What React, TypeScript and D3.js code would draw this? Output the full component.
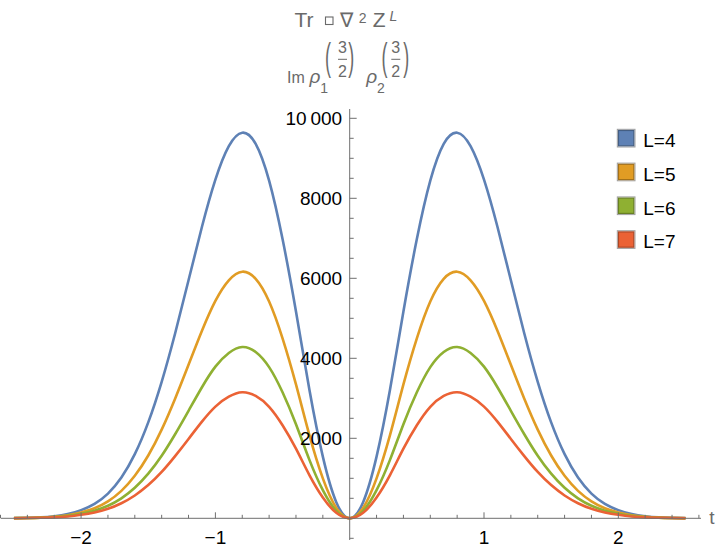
import React from 'react';
import * as d3 from 'd3';

// sample points along t
const tValues = [
  -2.5, -2.4, -2.3, -2.2, -2.1, -2.0, -1.9, -1.8, -1.7, -1.6, -1.5, -1.4, -1.3, -1.2, -1.1, -1.0, -0.9,
  -0.8, -0.7, -0.6, -0.5, -0.4, -0.3, -0.2, -0.1, 0, 0.1, 0.2, 0.3, 0.4, 0.5, 0.6, 0.7, 0.8, 0.9, 1.0,
  1.1, 1.2, 1.3, 1.4, 1.5, 1.6, 1.7, 1.8, 1.9, 2.0, 2.1, 2.2, 2.3, 2.4, 2.5,
];

const valuesL4 = [
  5, 11, 24, 52, 105, 205, 360, 618, 1020, 1603, 2397, 3412, 4620, 5952, 7288, 8465, 9303, 9640, 9360,
  8440, 6980, 5170, 3212, 1542, 404, 0, 404, 1542, 3212, 5170, 6980, 8440, 9360, 9640, 9303, 8465, 7288,
  5952, 4620, 3412, 2397, 1603, 1020, 618, 360, 205, 105, 52, 24, 11, 5,
];
const valuesL5 = [
  4, 8, 18, 39, 77, 147, 252, 424, 686, 1062, 1570, 2217, 2990, 3837, 4689, 5435, 5950, 6165, 5986,
  5419, 4499, 3346, 2078, 998, 261, 0, 261, 998, 2078, 3346, 4499, 5419, 5986, 6165, 5950, 5435, 4689,
  3837, 2990, 2217, 1570, 1062, 686, 424, 252, 147, 77, 39, 18, 8, 4,
];
const valuesL6 = [
  3, 7, 15, 31, 60, 113, 191, 314, 500, 764, 1116, 1564, 2102, 2687, 3277, 3791, 4134, 4283, 4159,
  3780, 3151, 2352, 1460, 702, 184, 0, 184, 702, 1460, 2352, 3151, 3780, 4159, 4283, 4134, 3791, 3277,
  2687, 2102, 1564, 1116, 764, 500, 314, 191, 113, 60, 31, 15, 7, 3,
];
const valuesL7 = [
  3, 6, 12, 24, 47, 87, 146, 238, 377, 571, 830, 1159, 1555, 1984, 2417, 2793, 3040, 3150, 3058,
  2786, 2326, 1740, 1080, 519, 136, 0, 136, 519, 1080, 1740, 2326, 2786, 3058, 3150, 3040, 2793, 2417,
  1984, 1555, 1159, 830, 571, 377, 238, 146, 87, 47, 24, 12, 6, 3,
];

const seriesNames = ['L=4', 'L=5', 'L=6', 'L=7'];
const seriesColors = ['#5e81b5', '#e19c24', '#8fb032', '#eb6235'];

const xTickValues = [-2, -1, 1, 2];
const xTickLabels = ['\u22122', '\u22121', '1', '2'];
const yTickValues = [2000, 4000, 6000, 8000, 10000];
const yTickLabels = ['2000', '4000', '6000', '8000', '10\u2009000'];

const W = 720;
const H = 552;
const font = '"Liberation Sans", Arial, sans-serif';
const axisColor = '#6f6f6f';
const labelGray = '#6a6a6a';

export default function App() {
  const x = d3.scaleLinear().domain([-2.6, 2.6]).range([0.5, 698.9]);
  const y = d3.scaleLinear().domain([0, 10000]).range([518.3, 118.3]);
  const x0 = x(0);
  const y0 = y(0);

  const line = d3
    .line<number>()
    .x((_, i) => x(tValues[i]))
    .y((d) => y(d))
    .curve(d3.curveNatural);

  const series = [valuesL4, valuesL5, valuesL6, valuesL7];

  const xMinor = d3
    .range(-26, 27, 2)
    .map((k) => k / 10)
    .filter((t) => Math.abs(t) > 1e-9 && !xTickValues.includes(t));
  const yMinor = d3.range(-500, 10001, 500).filter((v) => v !== 0 && !yTickValues.includes(v));

  return (
    <div style={{ position: 'absolute', left: 0, top: 0 }}>
      <svg width={W} height={H} style={{ display: 'block', background: '#fff' }}>
        {/* curves */}
        <g fill="none" strokeWidth={2.6} strokeLinejoin="round">
          {series.map((s, i) => (
            <path key={i} d={line(s) || ''} stroke={seriesColors[i]} />
          ))}
        </g>

        {/* x axis */}
        <g stroke={axisColor} strokeWidth={1}>
          <line x1={1} x2={701} y1={y0} y2={y0} />
          {xTickValues.map((t) => (
            <line key={'xt' + t} x1={x(t)} x2={x(t)} y1={y0} y2={y0 - 6} />
          ))}
          {xMinor.map((t) => (
            <line key={'xm' + t} x1={x(t)} x2={x(t)} y1={y0} y2={y0 - 3.5} />
          ))}
        </g>
        <g fontFamily={font} fontSize={19} fill="#000" textAnchor="middle">
          {xTickValues.map((t, i) => (
            <text key={'xl' + t} x={x(t)} y={y0 + 26}>
              {xTickLabels[i]}
            </text>
          ))}
        </g>
        <text x={712} y={y0 + 6} fontFamily={font} fontSize={19} fill={labelGray} textAnchor="middle">
          t
        </text>

        {/* y axis */}
        <g stroke={axisColor} strokeWidth={1}>
          <line x1={x0} x2={x0} y1={109} y2={540} />
          {yTickValues.map((v) => (
            <line key={'yt' + v} x1={x0} x2={x0 + 7} y1={y(v)} y2={y(v)} />
          ))}
          {yMinor.map((v) => (
            <line key={'ym' + v} x1={x0} x2={x0 + 4} y1={y(v)} y2={y(v)} />
          ))}
        </g>
        <g fontFamily={font} fontSize={19} fill="#000" textAnchor="end">
          {yTickValues.map((v, i) => (
            <text key={'yl' + v} x={x0 - 7.5} y={y(v) + 7}>
              {yTickLabels[i]}
            </text>
          ))}
        </g>

        {/* legend */}
        <g fontFamily={font} fontSize={19} fill="#000">
          {seriesNames.map((name, i) => {
            const ry = 138 + i * 33.8;
            const c = seriesColors[i];
            const dark = d3.color(c)!.darker(0.9).formatHex();
            return (
              <g key={name}>
                <rect x={617.3} y={ry - 8.7} width={17.7} height={17.7} fill="none" stroke="#a0a0a0" strokeWidth={1} />
                <rect x={618.5} y={ry - 7.5} width={15.3} height={15.3} fill={c} stroke={dark} strokeWidth={1.2} />
                <text x={643.3} y={ry + 9}>
                  {name}
                </text>
              </g>
            );
          })}
        </g>

        {/* title */}
        <g fontFamily={font} fill={labelGray}>
          <text x={294.5} y={26.7} fontSize={21}>
            Tr
          </text>
          <rect x={325.5} y={17} width={7.5} height={7.5} fill="none" stroke={labelGray} strokeWidth={1.1} />
          <text x={339.5} y={26.7} fontSize={20}>
            {'\u2207'}
          </text>
          <text x={358.8} y={22.7} fontSize={14}>
            2
          </text>
          <text x={372.8} y={26.7} fontSize={21}>
            Z
          </text>
          <text x={389.5} y={20.7} fontSize={14} fontStyle="italic">
            L
          </text>

          <text x={287} y={83.3} fontSize={16}>
            Im
          </text>
          <text x={309.5} y={83.3} fontSize={19} fontStyle="italic">
            {'\u03c1'}
          </text>
          <text x={320.3} y={93.3} fontSize={14}>
            1
          </text>
          <text transform="translate(325,70.4) scale(1,2.2)" fontSize={18}>
            (
          </text>
          <text x={342.5} y={53.3} fontSize={16} textAnchor="middle">
            3
          </text>
          <line x1={338} x2={347} y1={59.3} y2={59.3} stroke={labelGray} strokeWidth={1} />
          <text x={342.5} y={76.7} fontSize={16} textAnchor="middle">
            2
          </text>
          <text transform="translate(348.2,70.4) scale(1,2.2)" fontSize={18}>
            )
          </text>

          <text x={366.2} y={83.3} fontSize={19} fontStyle="italic">
            {'\u03c1'}
          </text>
          <text x={377} y={93.3} fontSize={14}>
            2
          </text>
          <text transform="translate(381.6,70.4) scale(1,2.2)" fontSize={18}>
            (
          </text>
          <text x={395.8} y={53.3} fontSize={16} textAnchor="middle">
            3
          </text>
          <line x1={391.3} x2={400.3} y1={59.3} y2={59.3} stroke={labelGray} strokeWidth={1} />
          <text x={395.8} y={76.7} fontSize={16} textAnchor="middle">
            2
          </text>
          <text transform="translate(403.2,70.4) scale(1,2.2)" fontSize={18}>
            )
          </text>
        </g>
      </svg>
    </div>
  );
}
